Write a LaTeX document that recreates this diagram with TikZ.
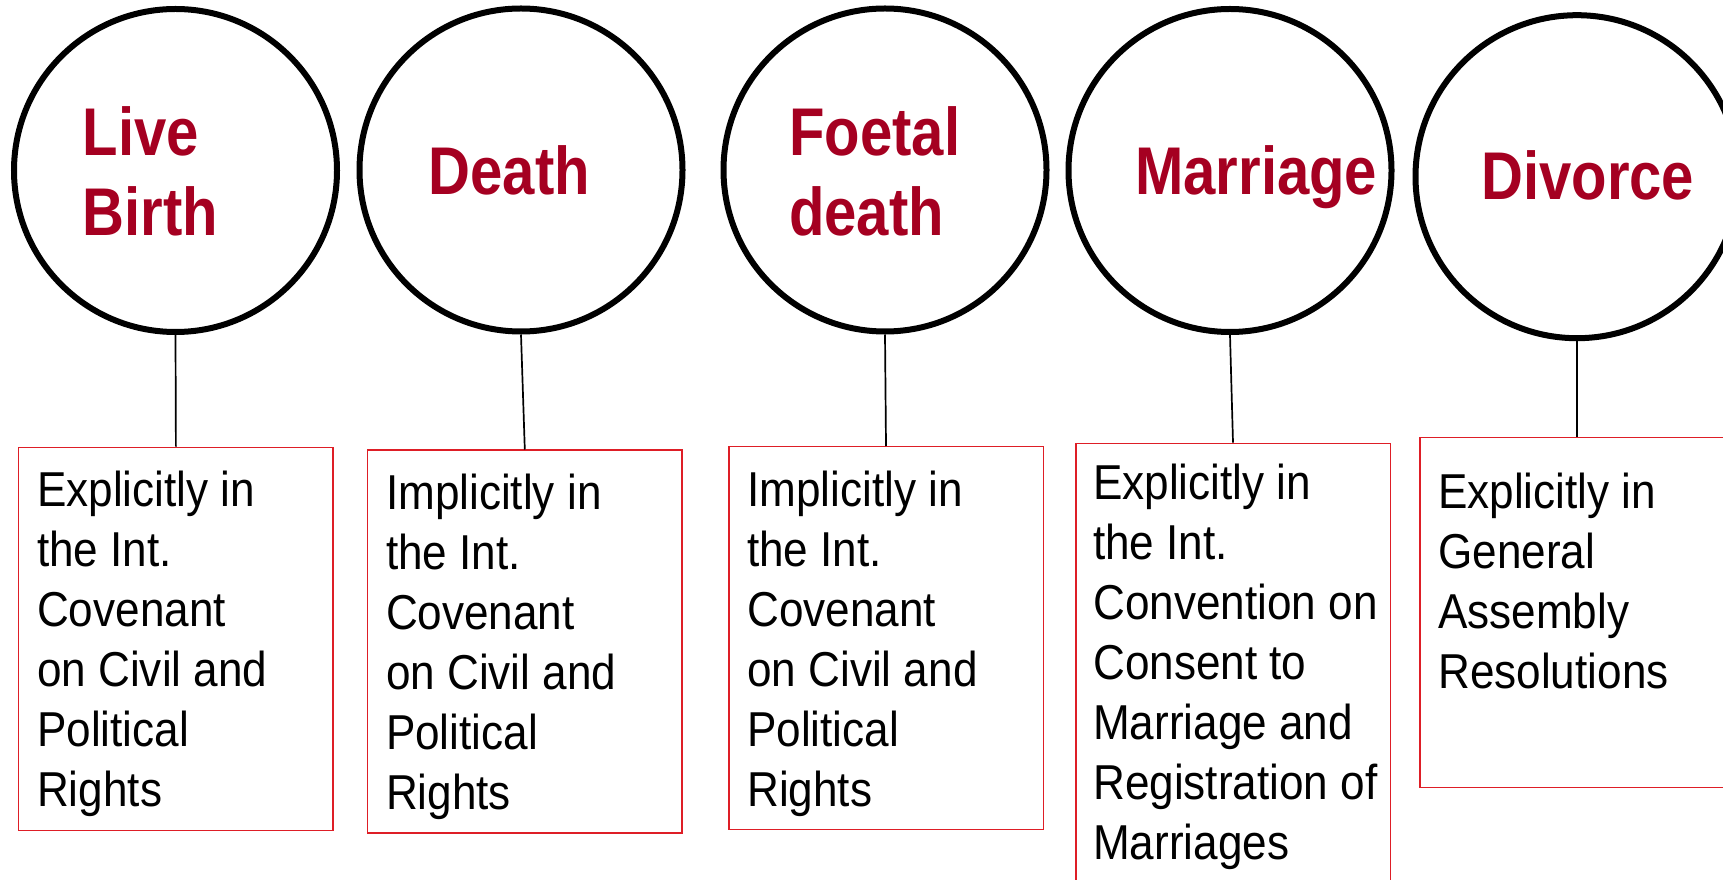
\documentclass[tikz,border=0pt]{standalone}
\usepackage{fontspec}
\setmainfont{Liberation Sans}[FakeStretch=0.9]
\newfontfamily\headfont{Liberation Sans}[FakeStretch=0.86]
\usetikzlibrary{positioning}
\definecolor{headred}{RGB}{165,0,33}
\definecolor{boxred}{RGB}{222,30,38}
\tikzset{
	event/.style={circle, draw, line width=6pt, minimum size=323pt, inner sep=0pt},
	eventname/.style={anchor=base west, align=left, text=headred, inner sep=0pt, font=\headfont\bfseries\fontsize{67.5}{80.3}\selectfont},
	basis/.style={draw=boxred, line width=1.5pt, minimum width=314.5pt, anchor=north, inner sep=0pt},
	basistext/.style={anchor=base west, align=left, inner sep=0pt, font=\fontsize{49}{60}\selectfont},
	tie/.style={line width=1.7pt}
}

\begin{document}
\begin{tikzpicture}[x=1pt, y=1pt]
		\useasboundingbox (0,0) rectangle (1723,879);
		\node[event] (live) at (175.5,708.5) {};
		\node[event] (death) at (521,709) {};
		\node[event] (foetal) at (885,709) {};
		\node[event] (marriage) at (1230,708.5) {};
		\node[event] (divorce) at (1577,702.3) {};
		% anchors sit on the baseline of the last line
		\node[eventname] (livename) at (82.6,643) {Live\\Birth};
		\node[eventname] (deathname) at (428.6,684) {Death};
		\node[eventname] (foetalname) at (789,643) {Foetal\\death};
		\node[eventname] (marriagename) at (1135,684) {Marriage};
		\node[eventname] (divorcename) at (1481,679) {Divorce};
		\node[basis, minimum height=383pt] (livebox) at (175.9,432.3) {};
		\node[basis, minimum height=382.5pt] (deathbox) at (524.8,429.5) {};
		\node[basis, minimum height=382.6pt] (foetalbox) at (886,433) {};
		\node[basis, minimum height=460pt] (marriagebox) at (1233,436.3) {};
		\node[basis, minimum height=350pt] (divorcebox) at (1577,442.3) {};
		\node[basistext] (livetext) at ([xshift=19pt, yshift=-360pt]livebox.north west) {Explicitly in\\the Int.\\Covenant\\on Civil and\\Political\\Rights};
		\node[basistext] (deathtext) at ([xshift=19pt, yshift=-360pt]deathbox.north west) {Implicitly in\\the Int.\\Covenant\\on Civil and\\Political\\Rights};
		\node[basistext] (foetaltext) at ([xshift=19pt, yshift=-360pt]foetalbox.north west) {Implicitly in\\the Int.\\Covenant\\on Civil and\\Political\\Rights};
		\node[basistext] (marriagetext) at ([xshift=18pt, yshift=-417pt]marriagebox.north west) {Explicitly in\\the Int.\\Convention on\\Consent to\\Marriage and\\Registration of\\Marriages};
		\node[basistext] (divorcetext) at ([xshift=19pt, yshift=-252pt]divorcebox.north west) {Explicitly in\\General\\Assembly\\Resolutions};
		\draw[tie] (live.south) -- (livebox.north);
		\draw[tie] (death.south) -- (deathbox.north);
		\draw[tie] (foetal.south) -- (foetalbox.north);
		\draw[tie] (marriage.south) -- (marriagebox.north);
		\draw[tie] (divorce.south) -- (divorcebox.north);
	\end{tikzpicture}
\end{document}
